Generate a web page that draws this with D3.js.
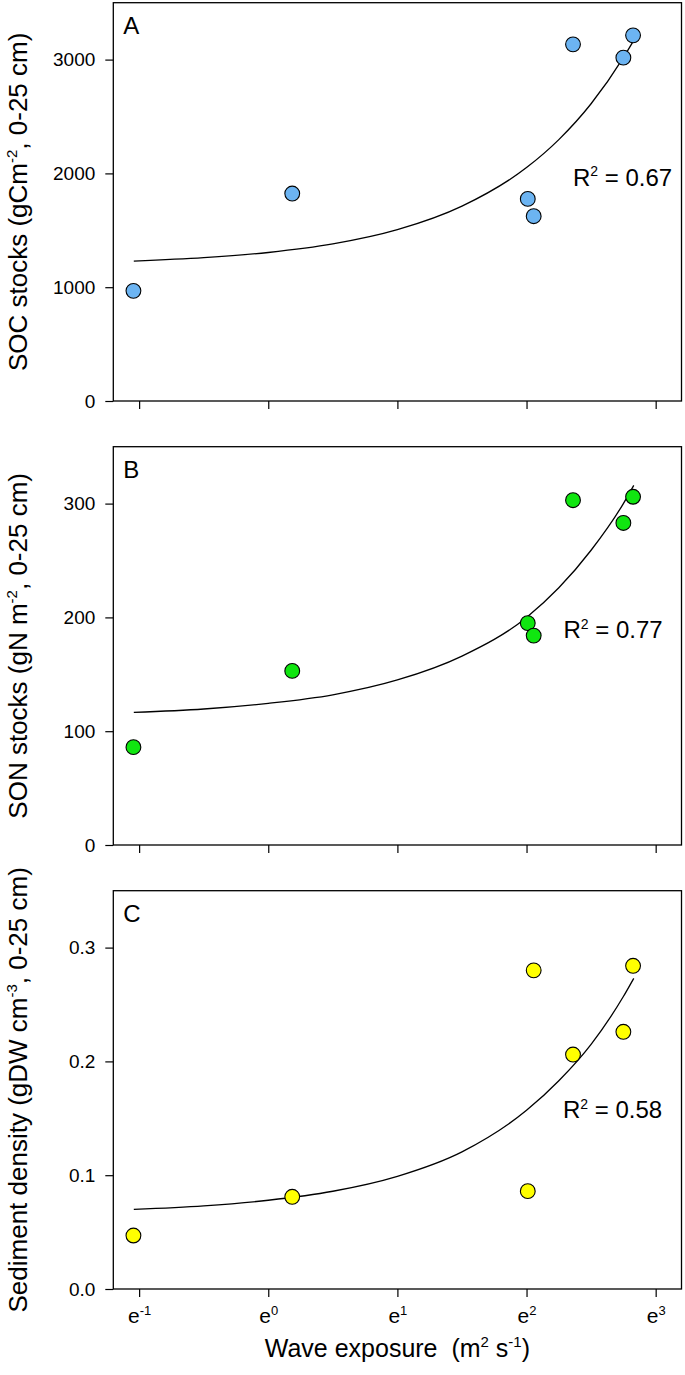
<!DOCTYPE html>
<html><head><meta charset="utf-8">
<script src="https://cdn.jsdelivr.net/npm/d3@7/dist/d3.min.js"></script>
<style>
body{margin:0;background:#fff}
text{font-family:"Liberation Sans",Arial,sans-serif;fill:#000;white-space:pre}
</style>
</head><body>
<svg id="chart" width="685" height="1375"></svg>
<script>
// ---- data ----
const siteExposure = [0.352, 1.204, 7.46, 7.81, 10.59, 15.64, 16.86]; // m2 s-1
const socStocks   = [968, 1823, 1776, 1624, 3134, 3017, 3213];
const sonStocks   = [86, 153, 195, 184, 303, 283, 306];
const sedDensity  = [0.047, 0.081, 0.086, 0.280, 0.206, 0.226, 0.284];

const fitExposure = [0.353, 0.607, 1, 1.649, 2.718, 4.482, 7.389, 9.488, 12.18, 15.64, 16.95];
const socFit = [1229, 1259, 1305, 1380, 1505, 1712, 2051, 2297, 2612, 3017, 3169];
const sonFit = [116.5, 119.5, 124.5, 132, 145, 166, 200, 226, 259, 300, 316];
const sedFit = [0.070, 0.0731, 0.078, 0.0859, 0.099, 0.1205, 0.157, 0.183, 0.215, 0.257, 0.273];

const xTickPowers = [-1, 0, 1, 2, 3];
const socTicks = [0, 1000, 2000, 3000];
const sonTicks = [0, 100, 200, 300];
const sedTicks = [0, 0.1, 0.2, 0.3];
const panelLetters = ["A", "B", "C"];
const r2Labels = ["0.67", "0.77", "0.58"];

// ---- layout ----
const svg = d3.select("#chart");
const left = 113.3, right = 681.5, ph = 398.3;
const tops = [2.7, 446.7, 890.7];

const x = d3.scaleLog().base(Math.E)
  .domain([Math.exp(-1.2), Math.exp(3.2)]).range([left, right]);

const panels = [
  {vals: socStocks, fit: socFit, ticks: socTicks, max: 3500, fmt: d3.format("d"), fill: "#6cb4f2",
   title: [["SOC stocks (gCm", 0], ["-2", 1], [", 0-25 cm)", 0]], r2pos: [573, 183]},
  {vals: sonStocks, fit: sonFit, ticks: sonTicks, max: 350, fmt: d3.format("d"), fill: "#10e610",
   title: [["SON stocks (gN m", 0], ["-2", 1], [", 0-25 cm)", 0]], r2pos: [563.4, 191.6]},
  {vals: sedDensity, fit: sedFit, ticks: sedTicks, max: 0.35, fmt: d3.format(".1f"), fill: "#ffff00",
   title: [["Sediment density (gDW cm", 0], ["-3", 1], [", 0-25 cm)", 0]], r2pos: [563, 227.6]}
];

function addRich(textSel, parts, supSize, baseSize) {
  parts.forEach(([s, sup], i) => {
    const t = textSel.append("tspan").text(s);
    if (sup) {
      t.attr("font-size", supSize).attr("dy", -baseSize * 0.4);
    } else if (i > 0 && parts[i - 1][1]) {
      t.attr("dy", baseSize * 0.4);
    }
  });
}

panels.forEach((p, i) => {
  const top = tops[i], bottom = top + ph;
  const y = d3.scaleLinear().domain([0, p.max]).range([bottom, top]);
  const g = svg.append("g");

  // y axis
  const ya = g.append("g").attr("transform", `translate(${left},0)`)
    .call(d3.axisLeft(y).tickValues(p.ticks).tickSize(8).tickPadding(10).tickFormat(p.fmt));
  ya.select(".domain").remove();
  ya.selectAll("line").attr("stroke", "#000").attr("stroke-width", 1.2);
  ya.selectAll("text").attr("font-size", 19).attr("font-family", '"Liberation Sans",Arial,sans-serif');

  // x axis
  const xa = g.append("g").attr("transform", `translate(0,${bottom})`)
    .call(d3.axisBottom(x).tickValues(xTickPowers.map(k => Math.exp(k))).tickSize(8).tickFormat(""));
  xa.select(".domain").remove();
  xa.selectAll("line").attr("stroke", "#000").attr("stroke-width", 1.2);
  if (i === 2) {
    xa.selectAll(".tick").each(function(d, j) {
      const t = d3.select(this).append("text")
        .attr("y", 33.7).attr("text-anchor", "middle")
        .attr("font-size", 21).attr("fill", "#000");
      t.append("tspan").text("e");
      t.append("tspan").text(String(xTickPowers[j]))
        .attr("font-size", 13).attr("dy", -8);
    });
  }

  // frame
  g.append("rect").attr("x", left).attr("y", top).attr("width", right - left).attr("height", ph)
    .attr("fill", "none").attr("stroke", "#000").attr("stroke-width", 1.3);

  // fit curve
  const line = d3.line().x(d => x(d[0])).y(d => y(d[1])).curve(d3.curveMonotoneX);
  g.append("path").datum(fitExposure.map((e, k) => [e, p.fit[k]]))
    .attr("d", line).attr("fill", "none").attr("stroke", "#000").attr("stroke-width", 1.3);

  // points
  g.selectAll("circle.pt").data(siteExposure.map((e, k) => [e, p.vals[k]])).join("circle")
    .attr("class", "pt").attr("cx", d => x(d[0])).attr("cy", d => y(d[1])).attr("r", 7.4)
    .attr("fill", p.fill).attr("stroke", "#000").attr("stroke-width", 1.1);

  // panel letter
  g.append("text").attr("x", left + 10).attr("y", top + 31.3).attr("font-size", 24).text(panelLetters[i]);

  // R2 label
  const r2 = g.append("text").attr("x", p.r2pos[0]).attr("y", top + p.r2pos[1]).attr("font-size", 24);
  addRich(r2, [["R", 0], ["2", 1], [" = " + r2Labels[i], 0]], 14, 24);

  // y title
  const yt = g.append("text")
    .attr("transform", `translate(27,${top + ph / 2}) rotate(-90)`)
    .attr("text-anchor", "middle").attr("font-size", 26);
  addRich(yt, p.title, 15, 26);
});

// x title
const xt = svg.append("text").attr("x", (left + right) / 2).attr("y", 1357.3)
  .attr("text-anchor", "middle").attr("font-size", 25);
addRich(xt, [["Wave exposure\u00a0\u00a0(m", 0], ["2", 1], [" s", 0], ["-1", 1], [")", 0]], 15, 25);
</script>
</body></html>
